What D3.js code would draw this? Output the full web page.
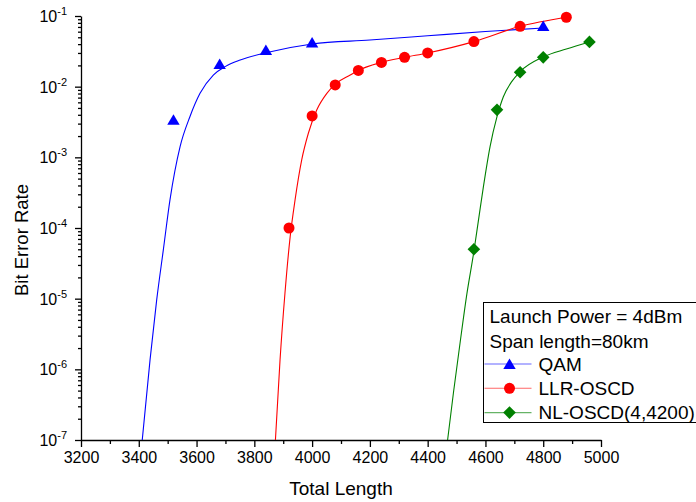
<!DOCTYPE html>
<html>
<head>
<meta charset="utf-8">
<script src="https://cdn.jsdelivr.net/npm/d3@7"></script>
<style>
  body { margin: 0; background: #fff; }
  svg { display: block; font-family: "Liberation Sans", Arial, sans-serif; }
</style>
</head>
<body>
<svg id="chart" width="696" height="502"></svg>
<script>
// measured points
const qamLength = [3520, 3680, 3840, 4000, 4800];
const qamBer = [3.4e-3, 0.021, 0.033, 0.042, 0.072];
const llrLength = [3920, 4000, 4080, 4160, 4240, 4320, 4400, 4560, 4720, 4880];
const llrBer = [1.0e-4, 3.85e-3, 0.0106, 0.017, 0.022, 0.026, 0.030, 0.0434, 0.0714, 0.096];
const nlLength = [4560, 4640, 4720, 4800, 4960];
const nlBer = [5.0e-5, 4.7e-3, 0.016, 0.026, 0.043];

// fitted curves
const qamFitLength = [3412, 3439, 3462, 3485, 3508, 3543, 3577, 3612, 3658, 3699, 3751, 3840, 4000, 4200, 4400, 4600, 4800];
const qamFitBer = [1e-7, 1.36e-6, 9.6e-6, 4.9e-5, 2.5e-4, 1.42e-3, 3.76e-3, 8.05e-3, 0.0146, 0.0192, 0.0238, 0.0302, 0.0402, 0.0457, 0.0525, 0.0603, 0.0676];
const llrFitLength = [3873, 3889, 3906, 3924, 3941, 3964, 3987, 4016, 4051, 4085, 4132, 4160, 4240, 4320, 4400, 4560, 4720, 4880];
const llrFitBer = [1e-7, 1.36e-6, 1.19e-5, 7.5e-5, 2.5e-4, 9.2e-4, 2.19e-3, 4.68e-3, 8.05e-3, 0.0112, 0.0146, 0.017, 0.0221, 0.026, 0.030, 0.0434, 0.0714, 0.096];
const nlFitLength = [4469, 4489, 4512, 4536, 4559, 4576, 4593, 4616, 4640, 4662, 4691, 4720, 4800, 4880, 4960];
const nlFitBer = [1e-7, 4.58e-7, 2.34e-6, 1.19e-5, 4.39e-5, 1.30e-4, 3.85e-4, 1.42e-3, 3.76e-3, 7.21e-3, 0.0118, 0.0163, 0.0263, 0.0341, 0.0429];

const xTicks = [3200, 3400, 3600, 3800, 4000, 4200, 4400, 4600, 4800, 5000];
const yTicks = [1e-7, 1e-6, 1e-5, 1e-4, 1e-3, 1e-2, 1e-1];
const seriesNames = ["QAM", "LLR-OSCD", "NL-OSCD(4,4200)"];
const legendNotes = ["Launch Power = 4dBm", "Span length=80km"];

const svg = d3.select("#chart");
const x = d3.scaleLinear().domain([3200, 5000]).range([81, 601]);
const y = d3.scaleLog().domain([1e-7, 1e-1]).range([440, 16]);

svg.append("defs").append("clipPath").attr("id", "plot")
  .append("rect").attr("x", 81).attr("y", 14).attr("width", 560).attr("height", 426);

// axes
const minorX = d3.range(3300, 5000, 200);
svg.append("g").attr("transform", "translate(0,440)")
  .call(d3.axisBottom(x).tickValues(minorX).tickSize(4).tickFormat(""))
  .call(g => g.select(".domain").remove());
const xAxis = svg.append("g").attr("transform", "translate(0,440)")
  .call(d3.axisBottom(x).tickValues(xTicks).tickSize(7).tickPadding(5).tickSizeOuter(0).tickFormat(d3.format("d")));
xAxis.selectAll("text").attr("font-size", 16).attr("fill", "#000");

const minorY = [];
for (let e = -7; e < -1; e++) for (let k = 2; k <= 9; k++) minorY.push(k * Math.pow(10, e));
svg.append("g").attr("transform", "translate(81,0)")
  .call(d3.axisLeft(y).tickValues(minorY).tickSize(3).tickFormat(""))
  .call(g => g.select(".domain").remove());
const yAxis = svg.append("g").attr("transform", "translate(81,0)")
  .call(d3.axisLeft(y).tickValues(yTicks).tickSize(6).tickPadding(14).tickSizeOuter(0).tickFormat(""));
yAxis.selectAll(".tick").append("text")
  .attr("x", -14).attr("dy", "0.34em").attr("text-anchor", "end")
  .attr("fill", "#000").attr("font-size", 16)
  .each(function(d) {
    const t = d3.select(this);
    t.append("tspan").text("10");
    t.append("tspan").attr("dy", -7).attr("font-size", 11).text(Math.round(Math.log10(d)));
  });
svg.selectAll(".domain, .tick line").attr("stroke", "#000").attr("stroke-width", 1.3);

svg.append("text").attr("x", 341).attr("y", 495).attr("text-anchor", "middle")
  .attr("font-size", 19).text("Total Length");
svg.append("text").attr("transform", "translate(28,240) rotate(-90)").attr("text-anchor", "middle")
  .attr("font-size", 18.5).text("Bit Error Rate");

// series
const colors = ["#0000ff", "#ff0000", "#008000"];
const fits = [
  qamFitLength.map((v, i) => [v, qamFitBer[i]]),
  llrFitLength.map((v, i) => [v, llrFitBer[i]]),
  nlFitLength.map((v, i) => [v, nlFitBer[i]])
];
const points = [
  qamLength.map((v, i) => [v, qamBer[i]]),
  llrLength.map((v, i) => [v, llrBer[i]]),
  nlLength.map((v, i) => [v, nlBer[i]])
];
const line = d3.line().x(d => x(d[0])).y(d => y(d[1])).curve(d3.curveMonotoneX);

const plot = svg.append("g").attr("clip-path", "url(#plot)");
plot.selectAll("path.fit").data(fits).join("path")
  .attr("class", "fit").attr("d", line)
  .attr("fill", "none").attr("stroke", (d, i) => colors[i]).attr("stroke-width", 1.1);

function marker(sel, i) {
  if (i === 0) sel.append("path").attr("d", "M0,-5.5L6.2,5L-6.2,5Z");
  else if (i === 1) sel.append("circle").attr("r", 5.5);
  else sel.append("path").attr("d", "M0,-6.3L6.3,0L0,6.3L-6.3,0Z");
  sel.attr("fill", colors[i]);
}
points.forEach((pts, i) => {
  svg.append("g").selectAll("g").data(pts).join("g")
    .attr("transform", d => `translate(${x(d[0])},${y(d[1])})`)
    .each(function() { marker(d3.select(this), i); });
});

// legend
const legend = svg.append("g").attr("transform", "translate(483.5,302.5)");
legend.append("rect").attr("width", 220).attr("height", 120)
  .attr("fill", "#fff").attr("stroke", "#000").attr("stroke-width", 1);
legendNotes.forEach((t, i) => legend.append("text")
  .attr("x", 6).attr("y", 20.5 + i * 24.5).attr("font-size", 19).text(t));
seriesNames.forEach((name, i) => {
  const row = legend.append("g").attr("transform", `translate(0,${61.5 + i * 24.3})`);
  row.append("line").attr("x1", 1).attr("x2", 48)
    .attr("stroke", colors[i]).attr("stroke-opacity", 0.6).attr("stroke-width", 1.1);
  const m = row.append("g").attr("transform", "translate(26,0)");
  marker(m, i);
  row.append("text").attr("x", 55).attr("y", 6.5).attr("font-size", 19).text(name);
});
</script>
</body>
</html>
